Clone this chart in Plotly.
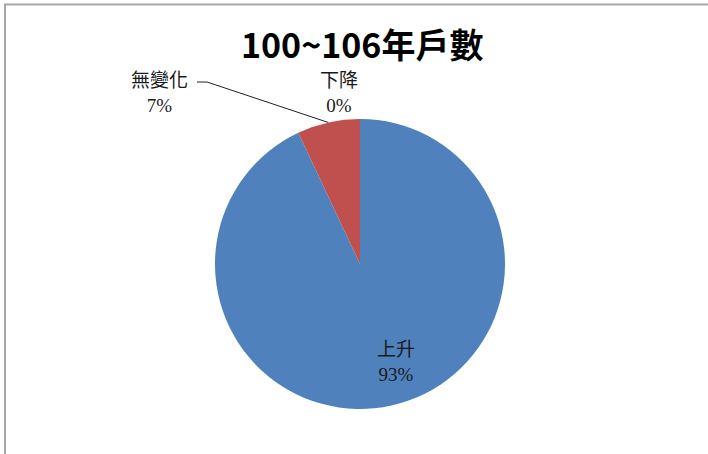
import math
import plotly.graph_objects as go

# Data
categories = ["上升", "無變化", "下降"]
values = [93, 7, 0]
colors = ["#4F81BD", "#C0504D", "#9BBB59"]
title_text = "100~106年戶數"

W, H = 708, 454
cx, cy, R = 360, 264, 145  # pie centre / radius in pixels


def px(x):
    return x / W


def py(y):
    return 1 - y / H


total = sum(values)
pcts = [f"{round(v / total * 100)}%" for v in values]

fig = go.Figure(go.Pie(
    labels=categories,
    values=values,
    sort=False,
    direction="clockwise",
    rotation=0,
    marker=dict(colors=colors, line=dict(width=0)),
    textinfo="none",
    hoverinfo="label+percent",
    showlegend=False,
    domain=dict(x=[px(cx - R), px(cx + R)], y=[py(cy + R), py(cy - R)]),
))

lab_font = dict(family="'Liberation Serif', 'Noto Sans CJK TC', serif", size=19, color="#1a1a1a")

# label positions (pixels)
label_pos = {
    "上升": (396, 362),
    "無變化": (159, 93),
    "下降": (339, 93),
}
annotations = []
for cat, p in zip(categories, pcts):
    x, y = label_pos[cat]
    annotations.append(dict(
        x=px(x), y=py(y), xref="paper", yref="paper",
        xanchor="center", yanchor="middle",
        text=f"{cat}<br>{p}", showarrow=False,
        font=lab_font, align="center",
    ))

annotations.append(dict(
    x=px(362), y=py(44), xref="paper", yref="paper",
    xanchor="center", yanchor="middle",
    text=f"<b>{title_text}</b>", showarrow=False,
    font=dict(family="'Noto Sans CJK TC', 'Noto Sans', sans-serif", size=34, color="#000000"),
))

# leader line for 無變化: from label to mid-angle of its slice on the rim
cum = sum(values[:1])
mid = (cum + values[1] / 2) / total * 2 * math.pi
ex = cx + R * math.sin(mid)
ey = cy - R * math.cos(mid)
shapes = [
    dict(type="path", xref="paper", yref="paper",
         path=f"M {px(197)} {py(82)} L {px(207)} {py(82)} L {px(ex)} {py(ey)}",
         line=dict(color="#222222", width=1)),
    # chart border (top and left visible)
    dict(type="rect", xref="paper", yref="paper",
         x0=px(5), x1=1.02, y0=-0.02, y1=py(4.5),
         line=dict(color="#a6a6a6", width=2), fillcolor="rgba(0,0,0,0)"),
]

fig.update_layout(
    width=W, height=H,
    margin=dict(l=0, r=0, t=0, b=0),
    paper_bgcolor="white",
    plot_bgcolor="white",
    annotations=annotations,
    shapes=shapes,
)

fig.write_html(
    "out.html",
    config={"displayModeBar": False},
    post_script="document.body.style.margin='0';document.body.style.overflow='hidden';",
)
